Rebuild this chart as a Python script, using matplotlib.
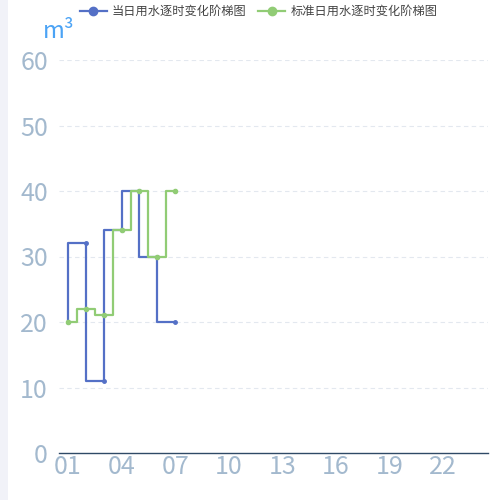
import numpy as np
import matplotlib.pyplot as plt
from matplotlib.patches import FancyBboxPatch
from matplotlib.lines import Line2D

plt.rcParams['font.family'] = ['Noto Sans CJK SC', 'DejaVu Sans']

hours = [f"{h:02d}" for h in range(1, 25)]
today = [20, 32, 11, 34, 40, 30, 20]
standard = [20, 22, 21, 34, 40, 30, 40]
y_ticks = [0, 10, 20, 30, 40, 50, 60]

blue = "#5470c6"
green = "#91cc75"
label_color = "#a3b9ce"

fig = plt.figure(figsize=(5, 5), dpi=100)
fig.patch.set_facecolor("#f1f2f8")
card = FancyBboxPatch((0.016, -0.05), 1.1, 1.1, boxstyle="round,pad=0,rounding_size=0.02",
                      transform=fig.transFigure, facecolor="white", edgecolor="none", zorder=-5)
fig.patches.append(card)

ax = fig.add_axes([0.118, 0.094, 0.858, 0.786])
ax.set_facecolor("none")
ax.set_zorder(2)

x = np.arange(len(hours))
ax.plot(x[:len(today)], today, drawstyle="steps-pre", color=blue, lw=1.6, zorder=3)
ax.plot(x[:len(today)], today, "o", color=blue, ms=2.5, zorder=4)
ax.plot(x[:len(standard)], standard, drawstyle="steps-mid", color=green, lw=1.6, zorder=3)
ax.plot(x[:len(standard)], standard, "o", color=green, ms=3, zorder=4)

ax.set_xlim(-0.5, len(hours) - 0.5)
ax.set_ylim(0, 60)
ax.set_yticks(y_ticks)
ax.set_xticks(x[::3])
ax.set_xticklabels(hours[::3])
ax.tick_params(axis="both", length=0, labelsize=18, labelcolor=label_color)
ax.tick_params(axis="x", pad=1)
ax.tick_params(axis="y", pad=8)
for t in y_ticks[1:]:
    ax.axhline(t, color="#e3e8ef", lw=0.8, ls=(0, (4, 3)), zorder=1)
for s in ["top", "right", "left"]:
    ax.spines[s].set_visible(False)
ax.spines["bottom"].set_color("#2f4a66")
ax.spines["bottom"].set_linewidth(1)

fig.text(0.085, 0.915, "m³", color="#4ba3f5", fontsize=17, ha="left", va="bottom", zorder=3)

h1 = Line2D([], [], color=blue, lw=1.6, marker="o", ms=6)
h2 = Line2D([], [], color=green, lw=1.6, marker="o", ms=6)
leg = fig.legend([h1, h2], ["当日用水逐时变化阶梯图", "标准日用水逐时变化阶梯图"],
                 loc="upper center", bbox_to_anchor=(0.517, 1.012), ncol=2, frameon=False,
                 fontsize=8.8, labelcolor="#444444", handlelength=2.2, handletextpad=0.4,
                 columnspacing=1.0)
leg.set_zorder(3)

fig.savefig("out.png", dpi=100)
